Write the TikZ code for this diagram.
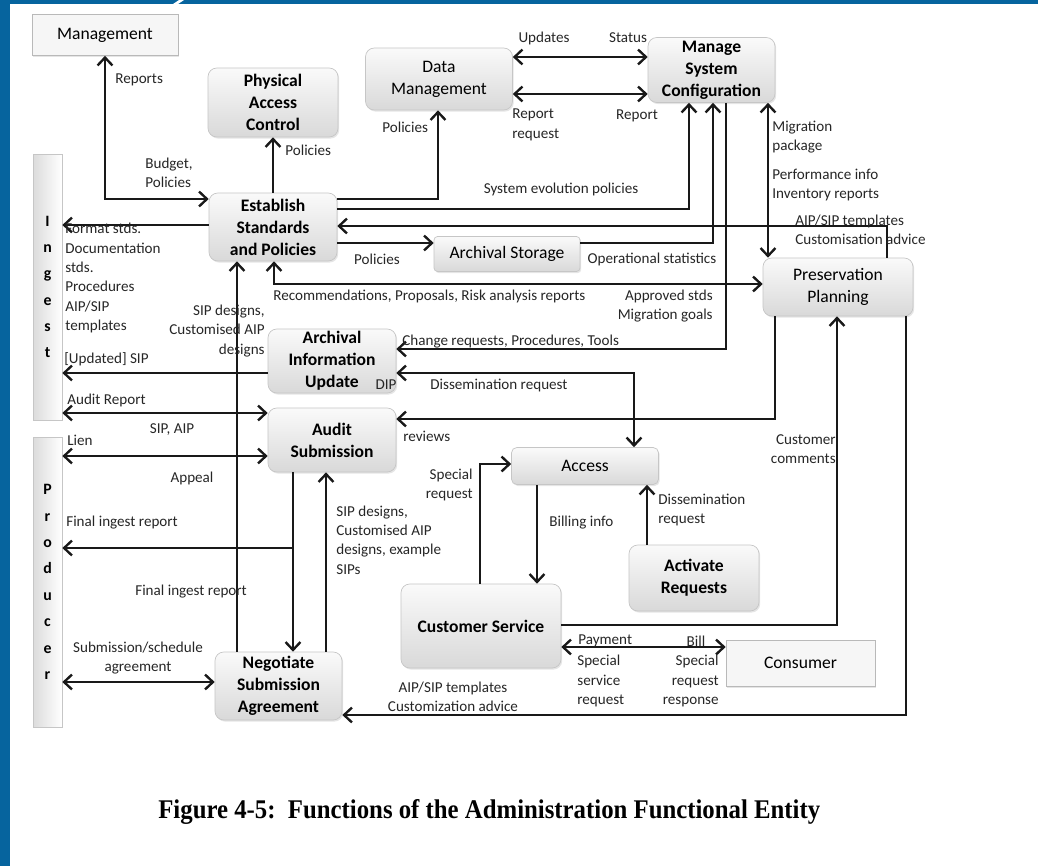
\documentclass[tikz,border=0pt]{standalone}
\usepackage{fontspec}
\setmainfont{Carlito}
\newfontfamily\capfont{Liberation Serif}
\usepackage{graphicx}
\usetikzlibrary{arrows.meta,shadows}
\definecolor{frameblue}{RGB}{6,100,158}

\begin{document}
\begin{tikzpicture}[x=0.02cm,y=-0.02cm,
		>={Straight Barb[length=4.5pt,width=8.5pt]},
		conn/.style={line width=1.35pt,black!90},
		func/.style={rounded corners=5pt,draw=gray!45,top color=gray!4,bottom color=gray!30,
			align=center,inner sep=1pt,font=\fontsize{10}{12.5}\selectfont,
			drop shadow={opacity=0.2,shadow xshift=0.7pt,shadow yshift=-0.9pt}},
		bf/.style={font=\fontsize{10}{12.5}\selectfont\bfseries},
		entity/.style={draw=gray!55,fill=gray!7,font=\fontsize{10}{12}\selectfont,
			drop shadow={opacity=0.2,shadow xshift=0.7pt,shadow yshift=-0.9pt}},
		strip/.style={draw=gray!45,left color=gray!28,right color=white,align=center,
			font=\fontsize{9}{15}\selectfont\bfseries,minimum width=0.58cm},
		lbl/.style={inner sep=0pt,align=left,text=black!85,font=\fontsize{8.6}{11}\selectfont}]
	\useasboundingbox (0,0) rectangle (1038,866);
	\fill[white] (0,0) rectangle (1038,866);
	\fill[frameblue] (0,0) rectangle (10,866);
	\fill[frameblue] (0,0) rectangle (1038,4);
	\fill[white] (173,4) -- (179,0) -- (184,0) -- (178,4) -- cycle;
	
	% outside entities
	\node[entity,minimum width=2.92cm,minimum height=0.82cm] (mgmt) at (105,35) {Management};
	\node[entity,minimum width=2.98cm,minimum height=0.92cm] (con) at (800.5,663) {Consumer};
	\node[strip,minimum height=5.32cm] (ingest) at (47.5,287) {I\\n\\g\\e\\s\\t};
	\node[strip,minimum height=5.8cm] (producer) at (47.5,582) {P\\r\\o\\d\\u\\c\\e\\r};
	
	% functions (top)
	\node[func,bf,minimum width=2.6cm,minimum height=1.38cm] (pac) at (273,102.5) {Physical\\Access\\Control};
	\node[func,minimum width=2.94cm,minimum height=1.24cm] (dm) at (439,79) {Data\\Management};
	\node[func,bf,minimum width=2.54cm,minimum height=1.3cm] (msc) at (711.5,70) {Manage\\System\\Configuration};
	\node[func,bf,minimum width=2.56cm,minimum height=1.36cm] (esp) at (273,227) {Establish\\Standards\\and Policies};
	\node[func,rounded corners=2pt,minimum width=2.92cm,minimum height=0.7cm] (as) at (507,254) {Archival Storage};
	\node[func,minimum width=3cm,minimum height=1.16cm] (pp) at (838,287) {Preservation\\Planning};
	
	% functions (bottom)
	\node[func,bf,minimum width=2.56cm,minimum height=1.28cm] (aiu) at (332,361) {Archival\\Information\\Update};
	\node[func,bf,minimum width=2.56cm,minimum height=1.28cm] (aud) at (332,440) {Audit\\Submission};
	\node[func,rounded corners=3pt,minimum width=2.94cm,minimum height=0.74cm] (acc) at (585,466) {Access};
	\node[func,bf,minimum width=2.6cm,minimum height=1.32cm] (act) at (694,578) {Activate\\Requests};
	\node[func,bf,minimum width=3.2cm,minimum height=1.68cm] (cs) at (481,626) {Customer Service};
	\node[func,bf,minimum width=2.54cm,minimum height=1.36cm] (nsa) at (278.5,686) {Negotiate\\Submission\\Agreement};
	
	% two-way flows
	\foreach \a/\b/\y in
	{dm/msc/57, dm/msc/94, ingest/aud/413, producer/aud/456, producer/nsa/682, cs/con/647}{
		\draw[conn,<->] (\a.east |- 0,\y) -- (\b.west |- 0,\y);
	}
	% flows to the left
	\foreach \a/\b/\y in
	{esp/ingest/225, aiu/ingest/373}{
		\draw[conn,->] (\a.west |- 0,\y) -- (\b.east |- 0,\y);
	}
	% flows upwards
	\foreach \a/\b/\x in
	{esp/pac/273, nsa/esp/237, nsa/aud/326, act/acc/647}{
		\draw[conn,->] (\a.north -| \x,0) -- (\b.south -| \x,0);
	}
	% flows downwards
	\foreach \a/\b/\x in
	{aud/nsa/293, acc/cs/537}{
		\draw[conn,->] (\a.south -| \x,0) -- (\b.north -| \x,0);
	}
	
	% bent flows
	\draw[conn,<->] (mgmt.south) -- (mgmt.south |- 0,199) -- (esp.west |- 0,199);
	\draw[conn,->] (esp.east |- 0,199) -| (dm.south -| 438,0);
	\draw[conn,->] (esp.east |- 0,209) -| (msc.south -| 689,0);
	\draw[conn,->] (pp.north -| 887,0) |- (esp.east |- 0,226);
	\draw[conn,->] (esp.east |- 0,243) -- (as.west |- 0,243);
	\draw[conn,->] (as.east |- 0,243) -| (msc.south -| 713,0);
	\draw[conn,<->] (esp.south -| 274,0) |- (pp.west |- 0,284);
	\draw[conn,->] (msc.south -| 726,0) |- (aiu.east |- 0,349);
	\draw[conn,<->] (msc.south -| 768,0) -- (pp.north -| 768,0);
	\draw[conn,<->] (aiu.east |- 0,373) -| (acc.north -| 634,0);
	\draw[conn,->] (pp.south -| 775,0) |- (aud.east |- 0,419);
	\coordinate (fir) at (293,548);
	\draw[conn,->] (fir) -- (producer.east |- fir);
	\draw[conn,->] (cs.north -| 480,0) |- (acc.west |- 0,464);
	\draw[conn,->] (cs.east |- 0,625) -| (pp.south -| 837,0);
	\draw[conn,->] (pp.south -| 906,0) |- (nsa.east |- 0,715);
	
	% labels (top)
	\node[lbl,anchor=west] (l1) at (115,80) {Reports};
	\node[lbl,anchor=west] (l2) at (145,173) {Budget,\\Policies};
	\node[lbl,anchor=west] (l3) at (285,150) {Policies};
	\node[lbl,anchor=west] (l4) at (382,127) {Policies};
	\node[lbl] (l5) at (544,38) {Updates};
	\node[lbl] (l6) at (628,38) {Status};
	\node[lbl,anchor=west] (l7) at (512,125) {Report\\request};
	\node[lbl] (l8) at (637,116) {Report};
	\node[lbl] (l9) at (561,189) {System evolution policies};
	\node[lbl,anchor=west] (l10) at (772,137) {Migration\\package};
	\node[lbl,anchor=west] (l11) at (772,185) {Performance info\\Inventory reports};
	\node[lbl,anchor=west] (l12) at (795,230) {AIP/SIP templates\\Customisation advice};
	\node[lbl] (l13) at (377,259) {Policies};
	\node[lbl] (l14) at (652,259) {Operational statistics};
	\node[lbl,anchor=west] (l15) at (273,296) {Recommendations, Proposals, Risk analysis reports};
	\node[lbl,anchor=east,align=right] (l16) at (713,306) {Approved stds\\Migration goals};
	\node[lbl,anchor=north west] (l17) at (65,223) {Format stds.\\Documentation\\stds.\\Procedures\\AIP/SIP\\templates};
	\node[lbl,anchor=east,align=right] (l18) at (265,331) {SIP designs,\\Customised AIP\\designs};
	
	% labels (middle)
	\node[lbl,anchor=west] (l19) at (402,342) {Change requests, Procedures, Tools};
	\node[lbl] (l20) at (386,385) {DIP};
	\node[lbl,anchor=west] (l21) at (430,385) {Dissemination request};
	\node[lbl,anchor=west] (l22) at (64,359) {[Updated] SIP};
	\node[lbl,anchor=west] (l23) at (67,400) {Audit Report};
	\node[lbl] (l24) at (172,430) {SIP, AIP};
	\node[lbl,anchor=west] (l25) at (67,440) {Lien};
	\node[lbl] (l26) at (192,478) {Appeal};
	\node[lbl,anchor=west] (l27) at (403,436) {reviews};
	\node[lbl,anchor=east,align=right] (l28) at (836,449) {Customer\\comments};
	\node[lbl,anchor=east,align=right] (l29) at (473,485) {Special\\request};
	\node[lbl,anchor=west] (l30) at (549,523) {Billing info};
	\node[lbl,anchor=west] (l31) at (658,510) {Dissemination\\request};
	
	% labels (bottom)
	\node[lbl,anchor=west] (l32) at (336,540) {SIP designs,\\Customised AIP\\designs, example\\SIPs};
	\node[lbl,anchor=west] (l33) at (66,523) {Final ingest report};
	\node[lbl,anchor=west] (l34) at (135,592) {Final ingest report};
	\node[lbl,align=center] (l35) at (138,658) {Submission/schedule\\agreement};
	\node[lbl,align=center] (l36) at (453,697) {AIP/SIP templates\\Customization advice};
	\node[lbl,anchor=west] (l37) at (578,641) {Payment};
	\node[lbl,anchor=west] (l38) at (577,681) {Special\\service\\request};
	\node[lbl] (l39) at (696,641) {Bill};
	\node[lbl,anchor=east,align=right] (l40) at (719,681) {Special\\request\\response};
	
	% caption
	\node[anchor=base west,inner sep=0pt] (cap) at (158,818)
	{\resizebox{13.24cm}{0.38cm}{\capfont\bfseries Figure 4-5:\ \ Functions of the Administration Functional Entity}};
\end{tikzpicture}
\end{document}
